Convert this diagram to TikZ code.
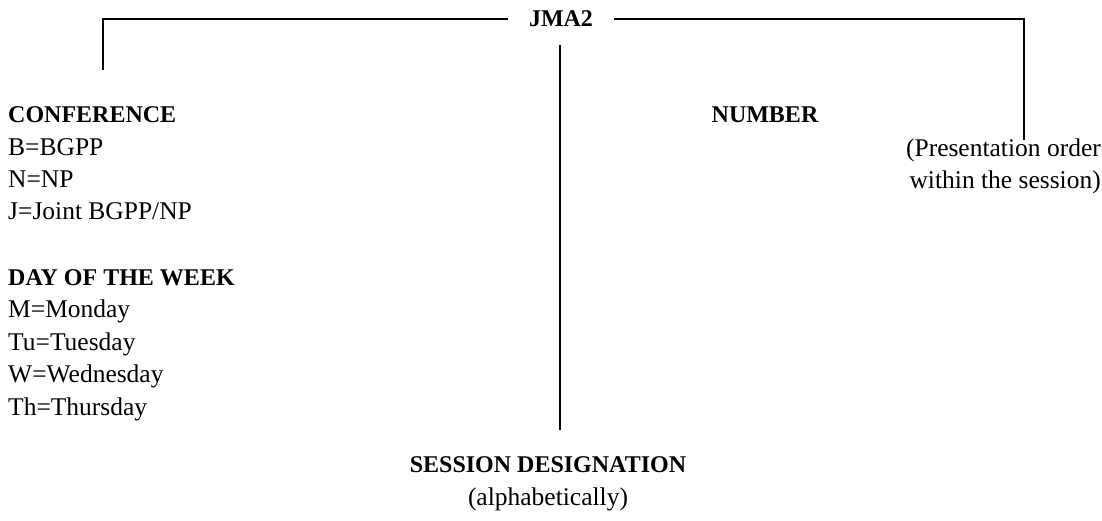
\documentclass[tikz,border=0pt]{standalone}
\usepackage{fontspec}
\setmainfont{Liberation Serif}
\begin{document}
\begin{tikzpicture}[x=1pt,y=-1pt,
  txt/.style={inner sep=0pt, font=\fontsize{25.5}{32.4}\selectfont},
  bold/.style={txt, font=\fontsize{24}{32.4}\selectfont\bfseries},
  conn/.style={line width=1.6pt}]
\newcommand{\hdtext}[1]{{\fontsize{24}{32.4}\selectfont\bfseries #1}}
\useasboundingbox (0,0) rectangle (1102,521);
% top label
\node[bold, inner xsep=21pt, anchor=base] (jma) at (561,27) {JMA2};
% left block (base anchor = baseline of the last line)
\node[txt, align=left, anchor=base west] (conf) at (8,220)
  {\hdtext{CONFERENCE}\\B=BGPP\\N=NP\\J=Joint BGPP/NP};
\node[txt, align=left, anchor=base west] (day) at (8,415)
  {\hdtext{DAY OF THE WEEK}\\M=Monday\\Tu=Tuesday\\W=Wednesday\\Th=Thursday};
% number
\node[bold, anchor=base] (num) at (765,123) {NUMBER};
\node[txt, align=right, anchor=base east] (order) at (1101,189)
  {(Presentation order\\within the session)};
% session
\node[txt, align=center, anchor=base] (sess) at (548,505)
  {\hdtext{SESSION DESIGNATION}\\(alphabetically)};
% connectors
\coordinate (lend) at (103,70);
\coordinate (rend) at (1024,140);
\coordinate (ctop) at (560,45);
\coordinate (cbot) at (560,430);
\draw[conn] (jma.west) -| (lend);
\draw[conn] (jma.east) -| (rend);
\draw[conn] (ctop) -- (cbot);
\end{tikzpicture}
\end{document}
